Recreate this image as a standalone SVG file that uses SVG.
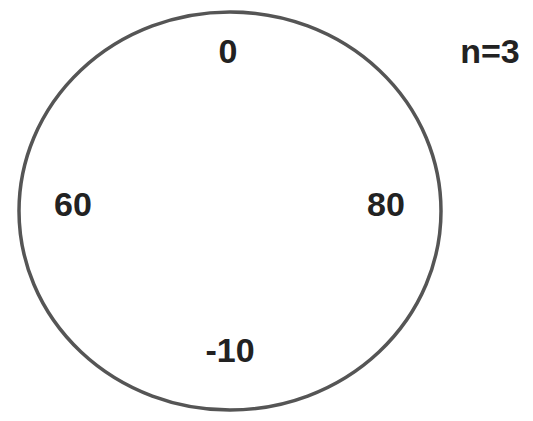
<svg xmlns="http://www.w3.org/2000/svg" width="533" height="421" viewBox="0 0 533 421">
<style>
.t{font-family:"Liberation Sans",Arial,sans-serif;font-weight:bold;font-size:34px;fill:#222;text-anchor:middle}
</style>
<rect width="533" height="421" fill="#fff"/>
<g id="circle"><ellipse cx="230" cy="211" rx="211" ry="199" fill="none" stroke="#555" stroke-width="3.5"/></g>
<g id="v0"><text class="t" x="228" y="63">0</text></g>
<g id="v60"><text class="t" x="73" y="216">60</text></g>
<g id="v80"><text class="t" x="386" y="216">80</text></g>
<g id="vm10"><text class="t" x="230" y="362">-10</text></g>
<g id="n"><text class="t" x="490" y="63">n=3</text></g>
<g id="connectors"/>
</svg>
